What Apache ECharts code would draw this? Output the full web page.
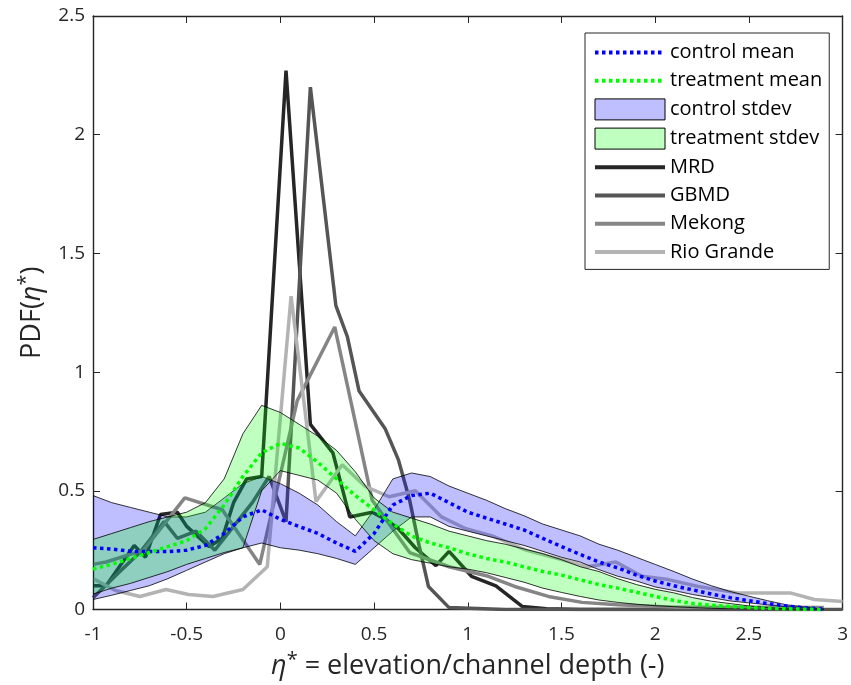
<!DOCTYPE html>
<html><head><meta charset="utf-8">
<script src="https://cdn.jsdelivr.net/npm/echarts@6/dist/echarts.min.js"></script>
<style>html,body{margin:0;padding:0;background:#fff}#c{width:851px;height:685px}</style>
</head><body><div id="c"></div>
<script>
// ---- data ----
const gridX = [-1,-0.9,-0.8,-0.7,-0.6,-0.5,-0.4,-0.3,-0.2,-0.1,0,0.1,0.2,0.3,0.4,0.5,0.6,0.7,0.8,0.9,1,1.1,1.2,1.3,1.4,1.5,1.6,1.7,1.8,1.9,2,2.1,2.2,2.3,2.4,2.5,2.6,2.7,2.8,2.9];
const controlMean = [0.26,0.255,0.245,0.244,0.244,0.25,0.27,0.32,0.39,0.42,0.38,0.35,0.32,0.28,0.245,0.32,0.44,0.48,0.49,0.45,0.41,0.385,0.36,0.335,0.30,0.265,0.232,0.20,0.175,0.145,0.12,0.10,0.083,0.065,0.05,0.037,0.025,0.015,0.007,0.002];
const controlUpper = [0.48,0.45,0.43,0.41,0.39,0.39,0.41,0.47,0.53,0.56,0.53,0.49,0.44,0.37,0.31,0.42,0.55,0.575,0.56,0.52,0.49,0.46,0.425,0.395,0.36,0.335,0.31,0.275,0.25,0.22,0.19,0.16,0.128,0.10,0.076,0.056,0.037,0.02,0.01,0.002];
const controlLower = [0.042,0.06,0.08,0.10,0.13,0.165,0.20,0.235,0.26,0.28,0.26,0.25,0.235,0.215,0.19,0.26,0.33,0.39,0.39,0.35,0.33,0.31,0.29,0.27,0.245,0.22,0.20,0.168,0.14,0.12,0.095,0.08,0.063,0.05,0.036,0.028,0.02,0.012,0.006,0.002];
const treatMean = [0.17,0.19,0.215,0.24,0.265,0.29,0.34,0.44,0.56,0.66,0.70,0.68,0.62,0.55,0.48,0.42,0.36,0.31,0.28,0.26,0.235,0.215,0.20,0.18,0.16,0.145,0.125,0.105,0.09,0.073,0.055,0.038,0.025,0.018,0.013,0.008,0.005,0.003,0.001,0];
const treatUpper = [0.295,0.32,0.345,0.37,0.39,0.41,0.45,0.55,0.74,0.86,0.83,0.78,0.73,0.67,0.58,0.47,0.41,0.385,0.36,0.33,0.31,0.29,0.275,0.255,0.235,0.21,0.18,0.16,0.13,0.105,0.085,0.07,0.05,0.035,0.025,0.015,0.008,0.003,0.001,0];
const treatLower = [0.065,0.09,0.11,0.135,0.16,0.19,0.215,0.24,0.26,0.50,0.585,0.565,0.545,0.49,0.38,0.29,0.235,0.21,0.195,0.18,0.17,0.155,0.135,0.115,0.09,0.072,0.055,0.04,0.03,0.022,0.016,0.012,0.008,0.005,0.003,0.002,0.001,0,0,0];

const mrdX = [-1,-0.93,-0.78,-0.72,-0.64,-0.55,-0.5,-0.38,-0.31,-0.25,-0.18,-0.1,0.03,0.16,0.28,0.37,0.49,0.56,0.63,0.72,0.83,0.9,1.02,1.15,1.29,1.42,1.6,2,2.5,2.9];
const mrdY = [0.10,0.10,0.27,0.22,0.40,0.41,0.35,0.265,0.30,0.45,0.55,0.56,2.27,0.78,0.66,0.39,0.41,0.38,0.34,0.26,0.185,0.245,0.14,0.10,0.013,0.003,0,0,0,0];
const gbmdX = [-1,-0.87,-0.75,-0.62,-0.55,-0.45,-0.35,-0.25,-0.15,-0.06,0.03,0.16,0.296,0.357,0.42,0.56,0.63,0.69,0.74,0.79,0.9,1.2,1.6,2,2.5,3];
const gbmdY = [0.05,0.15,0.24,0.37,0.30,0.33,0.25,0.35,0.45,0.56,0.37,2.2,1.28,1.15,0.92,0.76,0.63,0.46,0.27,0.097,0.008,0,0,0,0,0];
const mekongX = [-1,-0.93,-0.73,-0.51,-0.31,-0.11,0.09,0.29,0.49,0.69,0.9,1.11,1.25,1.43,1.61,1.8,2.1,2.5,2.9];
const mekongY = [0.19,0.2,0.25,0.47,0.42,0.19,0.88,1.19,0.46,0.24,0.18,0.14,0.097,0.055,0.03,0.02,0.01,0.01,0.008];
const rioX = [-1,-0.88,-0.75,-0.61,-0.49,-0.36,-0.2,-0.07,0.057,0.19,0.33,0.45,0.58,0.72,0.86,0.99,1.13,1.31,1.5,1.64,1.79,1.93,2.07,2.23,2.44,2.72,2.85,3.0];
const rioY = [0.13,0.08,0.055,0.084,0.063,0.055,0.084,0.18,1.32,0.455,0.61,0.52,0.475,0.50,0.39,0.34,0.31,0.25,0.21,0.18,0.2,0.14,0.126,0.097,0.07,0.07,0.042,0.034];

const xTicks = {min:-1, max:3, interval:0.5};
const yTicks = {min:0, max:2.5, interval:0.5};

// ---- chart ----
const FONT = '"Open Sans", "Noto Sans", sans-serif';
const AX = '#262626';
const chart = echarts.init(document.getElementById('c'), null, {renderer:'canvas', width:851, height:685});
const pairs = (xs, ys) => xs.map((x, i) => [x, ys[i]]);

function bandSeries(name, lower, upper, fill) {
  return {
    name: name, type: 'custom', z: 3, silent: true, clip: true,
    data: gridX.map((x, i) => [x, lower[i], upper[i]]),
    encode: {x: 0, y: [1, 2]},
    itemStyle: {color: fill, borderColor: '#000', borderWidth: 1},
    renderItem: function (params, api) {
      if (params.dataIndex !== 0) return null;
      const top = gridX.map((x, i) => api.coord([x, upper[i]]));
      const bot = gridX.map((x, i) => api.coord([x, lower[i]])).reverse();
      return {type: 'polygon', shape: {points: top.concat(bot)},
              style: {fill: fill, stroke: '#000', lineWidth: 0.8}};
    }
  };
}
function solidLine(name, xs, ys, color) {
  return {name: name, type: 'line', z: 2, data: pairs(xs, ys), symbol: 'none', showSymbol: false,
          silent: true, lineStyle: {color: color, width: 3.5}, itemStyle: {color: color}};
}
function dotLine(name, ys, color) {
  return {name: name, type: 'line', z: 4, data: pairs(gridX, ys), symbol: 'none', showSymbol: false,
          silent: true, lineStyle: {color: color, width: 3.5, type: [3.5, 3.5], cap: 'butt'}, itemStyle: {color: color}};
}

const axisCommon = {
  type: 'value',
  axisLine: {show: true, onZero: false, lineStyle: {color: AX, width: 1.4}},
  axisTick: {show: true, inside: true, length: 7, lineStyle: {color: AX, width: 1}},
  splitLine: {show: false}
};
const nameRich = {
  i: {fontFamily: FONT, fontSize: 27, fontStyle: 'italic', color: AX},
  s: {fontFamily: FONT, fontSize: 20, color: AX, padding: [0, 0, 12, 0]}
};

chart.setOption({
  animation: false,
  backgroundColor: '#fff',
  grid: {left: 93, right: 6, top: 16, bottom: 75, containLabel: false},
  xAxis: [
    Object.assign({}, axisCommon, xTicks, {position: 'bottom',
      axisLabel: {fontFamily: FONT, fontSize: 19, color: AX, margin: 16},
      name: '{i|η}{s|*} = elevation/channel depth (-)', nameLocation: 'middle', nameGap: 41,
      nameTextStyle: {fontFamily: FONT, fontSize: 27, color: AX, rich: nameRich}}),
    Object.assign({}, axisCommon, xTicks, {position: 'top', axisLabel: {show: false}})
  ],
  yAxis: [
    Object.assign({}, axisCommon, yTicks, {position: 'left',
      axisLabel: {fontFamily: FONT, fontSize: 19, color: AX, margin: 8},
      name: 'PDF({i|η}{s|*})', nameLocation: 'middle', nameGap: 45, nameRotate: 90,
      nameTextStyle: {fontFamily: FONT, fontSize: 27, color: AX, rich: nameRich}}),
    Object.assign({}, axisCommon, yTicks, {position: 'right', axisLabel: {show: false}})
  ],
  legend: {
    orient: 'vertical', left: 585, top: 33, z: 10, selectedMode: false,
    padding: [9, 7, 7, 8], itemGap: 7.2, itemWidth: 70, itemHeight: 21,
    backgroundColor: '#fff', borderColor: AX, borderWidth: 1, borderRadius: 0,
    textStyle: {fontFamily: FONT, fontSize: 20, lineHeight: 21, color: '#000'},
    itemStyle: {opacity: 0},
    lineStyle: {width: 4},
    data: [
      {name: 'control mean'},
      {name: 'treatment mean'},
      {name: 'control stdev', icon: 'rect', itemStyle: {opacity: 1, color: '#bfbfff', borderColor: '#000', borderWidth: 1}},
      {name: 'treatment stdev', icon: 'rect', itemStyle: {opacity: 1, color: '#bfffbf', borderColor: '#000', borderWidth: 1}},
      {name: 'MRD'}, {name: 'GBMD'}, {name: 'Mekong'}, {name: 'Rio Grande'}
    ]
  },
  series: [
    solidLine('MRD', mrdX, mrdY, '#262626'),
    solidLine('GBMD', gbmdX, gbmdY, '#555555'),
    solidLine('Mekong', mekongX, mekongY, '#858585'),
    solidLine('Rio Grande', rioX, rioY, '#b3b3b3'),
    bandSeries('control stdev', controlLower, controlUpper, 'rgba(0,0,255,0.25)'),
    bandSeries('treatment stdev', treatLower, treatUpper, 'rgba(0,255,0,0.25)'),
    dotLine('control mean', controlMean, '#0000ff'),
    dotLine('treatment mean', treatMean, '#00ff00')
  ]
});
</script>
</body></html>
